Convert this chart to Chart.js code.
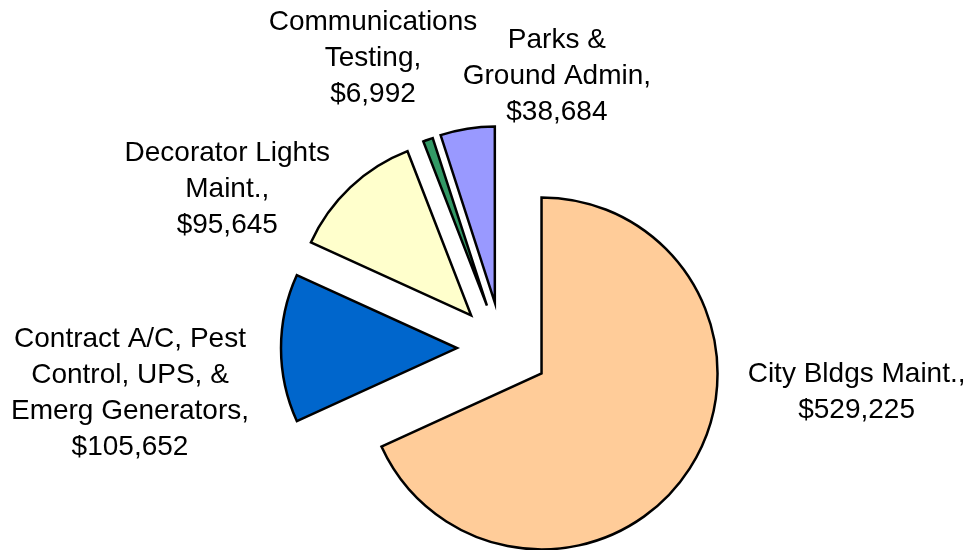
<!DOCTYPE html>
<html>
<head>
<meta charset="utf-8">
<script src="https://cdn.jsdelivr.net/npm/chart.js@4.4.1/dist/chart.umd.min.js"></script>
<style>
    html, body { margin: 0; padding: 0; background: #fff; }
    #wrap { width: 974px; height: 550px; position: relative; }
</style>
</head>
<body>
<div id="wrap"><canvas id="costChart"></canvas></div>
<script>
// Maintenance cost breakdown
const categories = [
    ['City Bldgs Maint.'],
    ['Contract A/C, Pest', 'Control, UPS, &', 'Emerg Generators'],
    ['Decorator Lights', 'Maint.'],
    ['Communications', 'Testing'],
    ['Parks &', 'Ground Admin']
];
const costs = [529225, 105652, 95645, 6992, 38684];

const sliceColors = ['#FFCC99', '#0066CC', '#FFFFCC', '#339966', '#9999FF'];
// how far each slice is pulled out of the pie
const explode = [47, 45, 45, 45, 46];
// label block centre, relative to the outer middle of its slice
const labelShift = [[167, -76], [-151, 45], [-123, 2], [-55, -81], [89.5, -52]];
const LINE_H = 36;

const formatMoney = v => '$' + v.toLocaleString('en-US');

// draws each slice moved out along its own bisector
const explodePlugin = {
    id: 'explodeSlices',
    beforeDatasetDraw(chart, args) {
        const ctx = chart.ctx;
        const meta = chart.getDatasetMeta(args.index);
        meta.data.forEach((arc, i) => {
            const mid = (arc.startAngle + arc.endAngle) / 2;
            ctx.save();
            ctx.translate(Math.cos(mid) * explode[i], Math.sin(mid) * explode[i]);
            arc.draw(ctx);
            ctx.restore();
        });
        return false;
    }
};

const labelPlugin = {
    id: 'sliceLabels',
    afterDraw(chart) {
        const ctx = chart.ctx;
        const meta = chart.getDatasetMeta(0);
        ctx.save();
        ctx.font = '28px "Liberation Sans", Arial, sans-serif';
        ctx.fillStyle = '#000';
        ctx.textAlign = 'center';
        ctx.textBaseline = 'middle';
        meta.data.forEach((arc, i) => {
            const mid = (arc.startAngle + arc.endAngle) / 2;
            const dist = arc.outerRadius + explode[i];
            const cx = arc.x + Math.cos(mid) * dist + labelShift[i][0];
            const cy = arc.y + Math.sin(mid) * dist + labelShift[i][1];
            const lines = categories[i].slice();
            lines[lines.length - 1] += ',';
            lines.push(formatMoney(costs[i]));
            const top = cy - (lines.length - 1) * LINE_H / 2;
            lines.forEach((t, j) => ctx.fillText(t, cx, top + j * LINE_H));
        });
        ctx.restore();
    }
};

const ctxCosts = document.getElementById('costChart').getContext('2d');
const costChart = new Chart(ctxCosts, {
    type: 'pie',
    data: {
        labels: categories.map(c => c.join(' ')),
        datasets: [{
            data: costs,
            backgroundColor: sliceColors,
            borderColor: '#000',
            borderWidth: 2.5,
            borderJoinStyle: 'miter',
            offset: 0
        }]
    },
    options: {
        responsive: true,
        maintainAspectRatio: false,
        animation: false,
        radius: 176,
        layout: {
            padding: { left: 30, right: 0, top: 146, bottom: 0 }
        },
        plugins: {
            legend: { display: false },
            tooltip: { enabled: false }
        }
    },
    plugins: [explodePlugin, labelPlugin]
});
</script>
</body>
</html>
